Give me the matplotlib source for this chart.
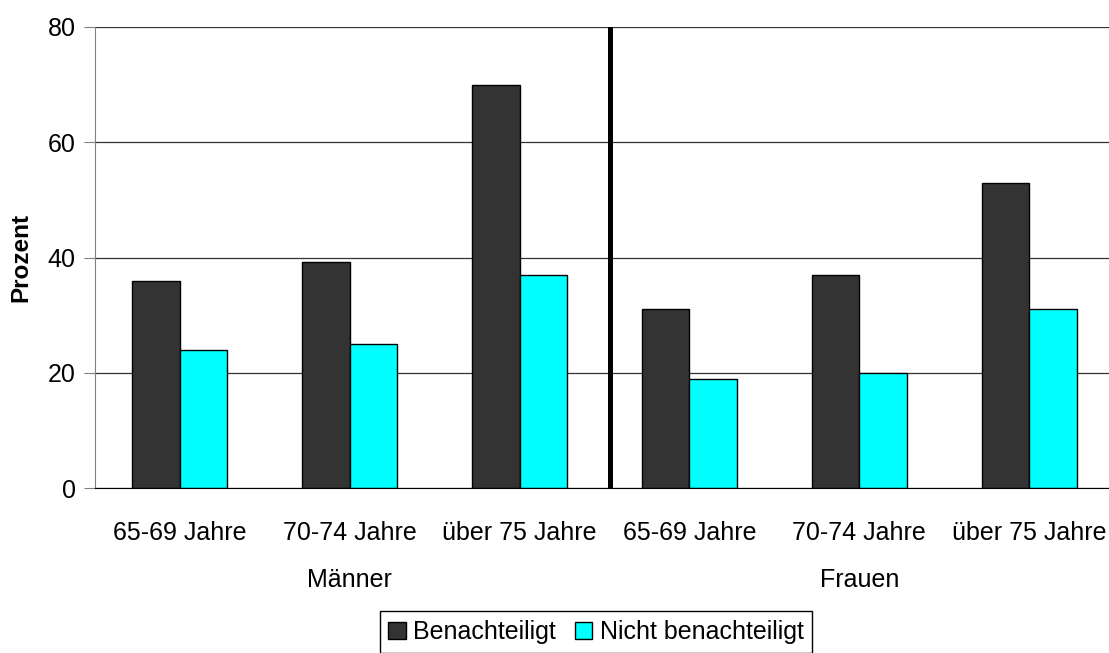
import numpy as np
import matplotlib.pyplot as plt

plt.rcParams['font.family'] = ['Liberation Sans', 'DejaVu Sans']

# data
age_groups = ['65-69 Jahre', '70-74 Jahre', 'über 75 Jahre',
              '65-69 Jahre', '70-74 Jahre', 'über 75 Jahre']
sexes = ['Männer', 'Frauen']
benachteiligt = [36, 39.2, 70, 31, 37, 53]
nicht_benachteiligt = [24, 25, 37, 19, 20, 31]

x = np.arange(len(age_groups))
w = 0.28
fs = 18

fig = plt.figure(figsize=(11.09, 6.53), dpi=100)
ax = fig.add_axes([95 / 1109, 165 / 653, 1019 / 1109, 461 / 653])

# gridlines behind bars
ax.set_axisbelow(True)
ax.yaxis.grid(True, color='#333333', linewidth=0.9)

ax.bar(x - w / 2, benachteiligt, w, color='#333333', edgecolor='black',
       linewidth=1, label='Benachteiligt')
ax.bar(x + w / 2, nicht_benachteiligt, w, color='#00FFFF', edgecolor='black',
       linewidth=1, label='Nicht benachteiligt')

# thick separator between the two groups
ax.axvline(2.53, color='black', linewidth=3.6)

ax.set_xlim(-0.5, 5.5)
ax.set_ylim(0, 80)
ax.set_yticks([0, 20, 40, 60, 80])
ax.set_xticks(x)
ax.set_xticklabels(age_groups)
ax.tick_params(axis='x', length=0, pad=24, labelsize=fs)
ax.tick_params(axis='y', length=8, color='#808080', pad=6, labelsize=fs)

ax.spines['top'].set_visible(False)
ax.spines['right'].set_visible(False)
ax.spines['left'].set_color('#808080')
ax.spines['bottom'].set_color('black')

ax.set_ylabel('Prozent', fontsize=17.5, fontweight='bold', labelpad=11)

# sex labels under the age groups
for i, s in enumerate(sexes):
    ax.text(1 + 3 * i, -0.2, s, transform=ax.get_xaxis_transform(),
            ha='center', va='center', fontsize=fs)

leg = ax.legend(loc='center', bbox_to_anchor=(596 / 1109, 21 / 653),
                bbox_transform=fig.transFigure, ncol=2, fancybox=False,
                edgecolor='black', framealpha=1, fontsize=fs,
                handlelength=0.7, handleheight=0.7, handletextpad=0.3,
                columnspacing=0.75, borderpad=0.35, borderaxespad=0)
leg.get_frame().set_linewidth(1)

plt.savefig('out.png', dpi=100)
